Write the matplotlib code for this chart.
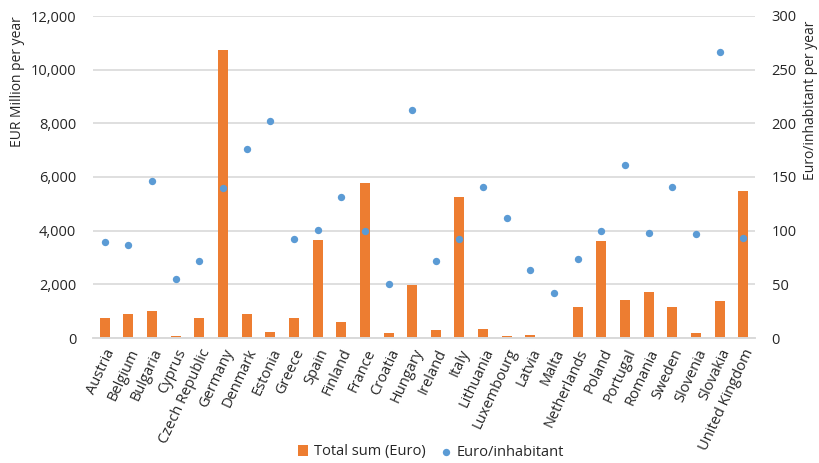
import matplotlib
matplotlib.use("Agg")
import matplotlib.pyplot as plt
import numpy as np

plt.rcParams['font.family'] = ['Open Sans', 'DejaVu Sans']

countries = ["Austria", "Belgium", "Bulgaria", "Cyprus", "Czech Republic", "Germany",
             "Denmark", "Estonia", "Greece", "Spain", "Finland", "France", "Croatia",
             "Hungary", "Ireland", "Italy", "Lithuania", "Luxembourg", "Latvia", "Malta",
             "Netherlands", "Poland", "Portugal", "Romania", "Sweden", "Slovenia",
             "Slovakia", "United Kingdom"]

total_sum_meur = [740, 900, 1020, 75, 740, 10730, 880, 210, 735, 3660, 600, 5780, 190,
                  1960, 310, 5250, 350, 60, 110, 0, 1170, 3600, 1430, 1700, 1170, 190,
                  1380, 5480]

euro_per_inhabitant = [89, 87, 146, 55, 71.5, 139.5, 176.5, 202, 92, 100.5, 131, 100,
                       50, 212, 72, 92, 141, 112, 63.5, 42, 73.5, 100, 161, 98, 141,
                       96.5, 266, 93.5]

left_ticks = [0, 2000, 4000, 6000, 8000, 10000, 12000]
right_ticks = [0, 50, 100, 150, 200, 250, 300]

bar_color = "#ED7D31"
dot_color = "#5B9BD5"
grid_color = "#D9D9D9"
text_color = "#262626"

fig = plt.figure(figsize=(8.19, 4.63), dpi=100)
ax = fig.add_axes([93 / 819, 1 - 338 / 463, (755 - 93) / 819, (338 - 16) / 463])
ax2 = ax.twinx()

x = np.arange(len(countries))
ax.bar(x, total_sum_meur, width=0.42, color=bar_color, zorder=2, label="Total sum (Euro)")
ax2.scatter(x, euro_per_inhabitant, s=28, color=dot_color, zorder=3, label="Euro/inhabitant",
            linewidths=0)

ax.set_xlim(-0.5, len(countries) - 0.5)
ax.set_ylim(0, 12000)
ax2.set_ylim(0, 300)
ax.set_yticks(left_ticks)
ax.set_yticklabels([f"{v:,}" for v in left_ticks])
ax2.set_yticks(right_ticks)
ax2.set_yticklabels([str(v) for v in right_ticks])

ax.yaxis.grid(True, color=grid_color, linewidth=1.2, zorder=0)
ax.set_axisbelow(True)
for a in (ax, ax2):
    for s in ("top", "left", "right"):
        a.spines[s].set_visible(False)
    a.spines["bottom"].set_color(grid_color)
    a.spines["bottom"].set_linewidth(1.2)
    a.tick_params(axis="y", length=0, labelsize=10.5, colors=text_color, pad=12)

ax.set_xticks(x)
ax.set_xticklabels(countries, rotation=65, ha="right", va="top", rotation_mode="anchor",
                   fontsize=10.5, color=text_color)
ax.tick_params(axis="x", length=0, pad=6)

fig.text(18 / 819, 1 - 82 / 463, "EUR Million per year", rotation=90, ha="center",
         va="center", fontsize=10, color=text_color)
fig.text(810 / 819, 1 - 100 / 463, "Euro/inhabitant per year", rotation=90, ha="center",
         va="center", fontsize=10, color=text_color)

handles = [ax.containers[0], ax2.collections[0]]
fig.legend(handles, ["Total sum (Euro)", "Euro/inhabitant"], loc="center",
           bbox_to_anchor=(431 / 819, 1 - 452 / 463), ncol=2, frameon=False, fontsize=10.5,
           handlelength=0.7, handletextpad=0.4, columnspacing=1.0,
           labelcolor=text_color)

fig.savefig("out.png", dpi=100)
